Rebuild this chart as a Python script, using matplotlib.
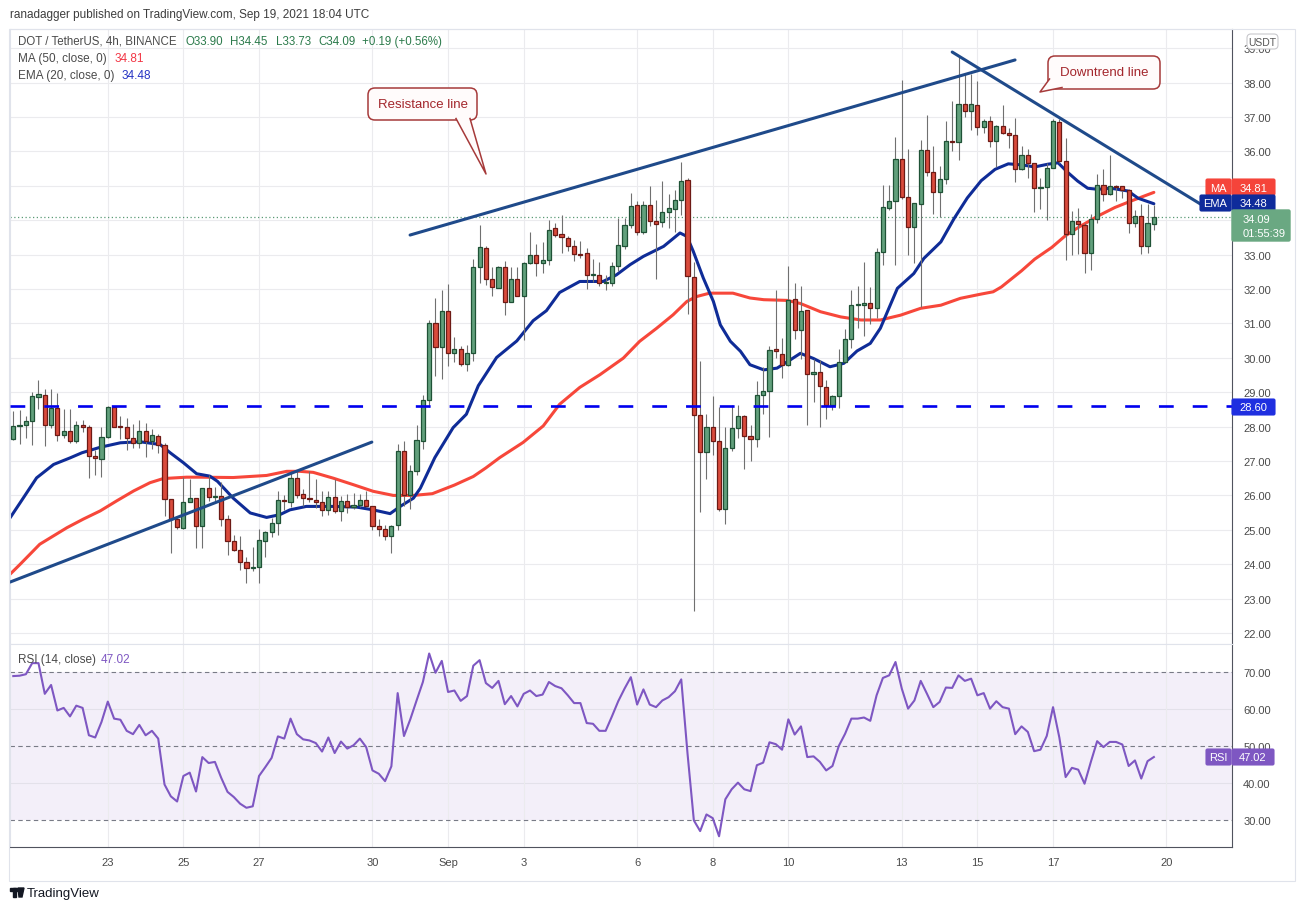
import matplotlib
matplotlib.use('Agg')
import matplotlib.pyplot as plt
from matplotlib.patches import FancyBboxPatch, Polygon, Rectangle
import numpy as np

# ---------------- DATA ----------------
opens = [27.63,28.02,28.04,28.16,28.87,28.91,28.06,28.55,27.75,27.87,27.58,28.06,28.00,27.14,27.06,27.70,28.56,28.00,28.00,27.67,
         27.52,27.87,27.58,27.72,27.48,25.89,25.31,25.06,25.81,25.93,25.11,26.22,25.95,25.97,25.30,24.67,24.42,24.06,23.90,23.91,
         24.67,24.93,25.19,25.88,25.80,26.52,26.04,25.92,25.88,25.80,25.57,25.94,25.54,25.83,25.65,25.71,25.88,25.68,25.10,25.02,
         24.81,25.13,27.30,26.02,26.70,27.59,28.78,31.00,30.32,31.37,30.14,30.27,29.82,30.14,32.63,33.18,32.29,32.04,32.65,31.63,
         32.29,31.80,32.76,32.99,32.76,32.85,33.76,33.60,33.48,33.26,33.02,33.04,32.41,32.41,32.17,32.17,32.66,33.24,33.87,34.43,
         33.67,34.43,33.97,33.94,34.23,34.33,34.58,35.16,32.34,28.35,27.25,27.98,27.59,25.61,27.38,27.96,28.30,27.74,27.63,28.93,
         29.05,30.27,30.12,29.80,31.70,30.81,31.39,29.52,29.58,29.16,28.63,28.90,29.89,30.54,31.53,31.53,31.60,31.46,33.08,34.37,
         34.56,35.79,34.68,33.81,34.46,36.05,35.41,34.82,35.19,36.31,36.28,37.39,37.17,37.34,36.72,36.88,36.30,36.74,36.55,36.48,
         35.50,35.90,35.65,34.95,34.97,35.53,36.86,35.72,33.59,33.98,33.86,33.06,34.03,35.03,34.75,35.00,35.00,34.87,33.93,34.12,
         33.25,33.90]
highs = [28.45,28.48,28.30,29.01,29.35,29.10,29.10,28.98,28.52,28.50,28.16,28.20,28.06,27.33,27.98,28.60,28.60,28.30,28.25,28.09,
         28.20,28.10,27.92,27.78,27.53,25.89,25.34,26.53,26.47,25.93,26.22,26.59,26.25,26.40,25.44,24.86,24.81,24.20,24.50,25.02,
         24.96,25.34,26.12,26.02,26.70,26.74,26.19,26.70,26.47,26.12,26.13,26.47,25.99,26.04,26.06,26.04,26.13,25.70,25.30,25.15,
         25.13,27.49,27.57,26.89,28.04,28.92,31.09,31.73,31.97,32.14,30.62,30.35,30.37,32.87,33.85,33.26,32.63,32.68,32.82,32.63,
         32.63,32.80,33.67,33.32,33.38,34.01,33.93,34.16,33.55,33.42,33.40,33.19,32.88,32.80,32.41,32.80,34.06,34.06,34.79,34.57,
         34.57,35.00,34.60,35.13,34.77,34.89,35.69,35.24,32.80,29.92,28.36,28.88,28.58,27.98,28.64,28.62,28.35,28.05,29.34,29.72,
         30.33,31.96,30.59,32.66,32.18,32.10,31.39,29.98,29.94,29.36,28.92,30.25,30.84,31.97,32.08,32.79,32.06,33.20,35.02,35.02,
         36.42,38.07,36.06,34.49,36.33,37.07,36.16,35.57,36.88,37.46,38.77,38.26,38.24,38.04,36.95,37.03,36.77,37.34,36.67,36.98,
         36.16,36.06,35.65,35.24,35.67,36.95,36.95,36.40,34.27,34.35,33.93,34.19,35.33,35.48,35.89,35.02,35.00,34.90,34.29,34.46,
         34.46,34.45]
lows = [27.60,27.50,27.67,27.48,28.50,27.45,27.96,27.58,27.67,27.53,27.53,27.85,26.50,26.58,26.53,27.68,28.00,27.63,27.32,27.38,
        27.38,27.11,27.34,27.24,25.40,24.34,25.02,25.03,25.80,24.48,24.48,25.84,25.83,25.10,24.28,24.38,23.82,23.44,23.80,23.44,
        24.20,24.80,24.84,25.58,25.65,25.92,25.68,25.80,25.63,25.40,25.44,25.49,25.25,25.49,25.60,25.66,25.65,24.98,24.81,24.69,
        24.33,24.98,25.68,25.60,26.60,27.35,28.57,29.46,29.38,29.75,29.88,29.77,29.62,29.91,32.17,32.11,31.80,32.02,31.25,31.63,
        31.80,30.52,32.74,32.38,32.46,32.70,33.50,33.06,33.11,32.82,32.90,32.00,32.20,32.10,31.96,32.08,32.53,33.17,33.77,33.56,
        33.60,33.82,32.30,33.79,33.77,33.67,34.16,31.28,22.65,25.51,26.48,27.18,25.54,25.17,27.28,27.68,26.78,26.99,27.42,28.37,
        27.69,29.99,29.41,29.75,30.55,29.98,28.05,28.73,28.00,28.22,28.48,28.54,29.84,30.28,30.86,30.64,30.98,31.16,32.71,34.30,
        32.70,34.63,32.99,32.76,31.49,35.29,34.18,34.08,35.04,36.00,35.74,37.00,36.62,36.48,36.55,36.13,35.55,36.50,36.09,35.11,
        35.45,35.24,34.25,34.32,34.00,35.51,35.67,32.85,32.99,33.03,32.48,32.56,33.93,34.56,34.73,34.56,34.66,33.64,33.79,33.03,
        33.06,33.73]
closes = [28.01,28.04,28.16,28.88,28.95,28.06,28.55,27.75,27.87,27.58,28.06,28.00,27.14,27.08,27.70,28.56,28.00,27.99,27.67,27.52,
          27.87,27.58,27.75,27.48,25.89,25.31,25.08,25.81,25.93,25.11,26.22,25.95,25.98,25.30,24.67,24.40,24.06,23.88,23.91,24.70,
          24.93,25.19,25.88,25.83,26.52,26.02,25.92,25.89,25.80,25.57,25.94,25.54,25.83,25.65,25.71,25.88,25.68,25.10,25.02,24.81,
          25.10,27.28,26.02,26.70,27.62,28.78,31.00,30.32,31.37,30.14,30.27,29.82,30.14,32.65,33.21,32.29,32.06,32.65,31.63,32.29,
          31.80,32.76,32.99,32.76,32.85,33.72,33.58,33.52,33.26,33.01,33.00,32.41,32.43,32.17,32.18,32.66,33.27,33.87,34.40,33.67,
          34.43,33.97,33.90,34.23,34.35,34.58,35.13,32.37,28.35,27.25,27.98,27.59,25.61,27.38,27.96,28.30,27.74,27.63,28.93,29.05,
          30.23,30.19,29.80,31.69,30.81,31.37,29.52,29.58,29.19,28.63,28.90,29.89,30.54,31.55,31.56,31.60,31.46,33.08,34.39,34.56,
          35.79,34.68,33.81,34.49,36.05,35.41,34.82,35.21,36.31,36.28,37.39,37.17,37.37,36.72,36.88,36.30,36.74,36.53,36.48,35.50,
          35.90,35.67,34.95,34.97,35.53,36.88,35.72,33.59,33.98,33.90,33.06,34.03,35.03,34.75,35.00,34.97,34.87,33.93,34.12,33.25,
          33.93,34.09]

rsi = [68.9,69.0,69.4,72.4,72.4,64.1,66.5,59.6,60.3,58.0,60.9,60.3,52.9,52.3,56.5,62.0,57.4,57.1,54.1,53.2,
       55.7,52.9,54.1,52.0,39.6,36.4,35.0,41.9,42.8,37.7,47.0,45.4,45.7,41.4,37.6,36.2,34.4,33.3,33.7,41.9,
       44.3,46.8,52.6,52.0,57.4,53.2,51.8,51.5,50.8,48.5,52.3,48.1,51.2,49.3,50.2,52.0,49.7,43.4,42.5,40.5,
       44.5,64.3,52.7,57.2,62.3,67.3,75.0,69.8,73.0,64.6,65.0,62.2,63.5,71.7,73.2,67.0,65.7,67.6,61.3,63.5,
       60.7,64.1,65.0,63.5,63.9,67.3,66.2,65.6,63.7,61.6,61.6,56.2,56.0,54.1,54.1,58.0,62.1,65.5,68.6,61.2,
       65.3,61.2,60.5,62.3,63.2,64.8,68.0,47.9,29.9,27.0,31.5,30.5,25.6,35.6,38.3,40.1,38.3,37.8,44.8,45.5,
       51.0,50.5,49.0,57.2,53.1,55.3,47.0,47.2,45.7,43.4,44.6,50.0,53.3,57.4,57.4,57.7,56.8,63.7,68.4,69.1,
       72.7,65.5,60.1,62.3,67.6,64.1,60.5,61.9,65.8,65.7,69.1,67.6,68.2,63.7,64.3,60.1,62.1,60.5,60.1,53.2,
       55.3,53.8,48.6,49.0,52.7,60.5,52.3,41.6,44.1,43.6,39.8,45.7,51.3,49.7,51.1,51.1,50.4,44.6,46.1,41.2,
       45.9,47.02]

# sampled EMA(20) and MA(50) values (candle index, value)
ema_t = [-0.5,1.1,3.7,6.4,9.0,10.9,13.8,17,20.1,23.3,24.9,27,29.1,31.2,32.4,34.9,37.6,40.2,42.3,43.9,46.5,50.8,54.5,57.1,
         59.8,61.4,63.5,64.6,66.9,69.8,71.9,73.8,76.7,79.9,82.5,84.6,86.7,89.9,93.6,95.7,97.9,100,103.2,105.8,106.9,107.9,
         109.5,111.1,112.2,113.8,115.4,116.9,119.1,121.2,123.3,124.9,127,129.6,131.8,133.9,136,137.6,140.3,142.9,144.5,
         147.2,149.3,151.4,153.6,155.8,157.9,160,162.1,164.2,165.8,167.4,168.9,170.5,172.1,174.2,176.9,178.5,181]
ema_v = [25.35,25.79,26.51,26.90,27.09,27.24,27.40,27.53,27.56,27.48,27.24,26.95,26.63,26.56,26.41,25.92,25.49,25.36,25.44,
         25.58,25.68,25.68,25.66,25.58,25.47,25.68,25.92,26.21,27.10,27.97,28.36,29.19,30.01,30.49,31.08,31.37,31.90,32.22,
         32.22,32.41,32.71,32.95,33.24,33.63,33.53,33.10,32.32,31.64,30.96,30.48,30.19,29.80,29.65,29.70,29.94,30.13,29.98,
         29.74,29.84,30.20,30.42,30.86,32.02,32.45,32.89,33.37,34.05,34.65,35.15,35.48,35.64,35.61,35.55,35.63,35.67,35.38,
         35.14,34.93,34.90,34.93,34.85,34.64,34.48]
ma_t = [-0.5,1.1,4.2,8.5,11.1,13.8,16.4,19.1,21.7,23.8,27.5,29.6,34.9,40.2,43.4,45.5,47.6,50.8,54.0,57.1,60.3,63.5,66.5,
        70,73,75,77.2,80.9,84.1,86.7,89.9,93.1,96.8,99.4,102.1,104.7,106.9,108.4,110.5,114.2,116.9,119.1,122.8,124.9,128.1,
        131.3,134.5,137.6,140.8,144.0,147.2,150.3,153.5,155.5,156.8,160,162.1,164.8,166.9,169,172.1,174.8,177.4,181]
ma_v = [23.71,24.00,24.58,25.06,25.31,25.55,25.84,26.13,26.37,26.49,26.53,26.53,26.52,26.58,26.70,26.70,26.67,26.50,26.31,
        26.12,26.00,26.00,26.05,26.30,26.55,26.80,27.10,27.54,28.02,28.65,29.14,29.51,29.99,30.48,30.86,31.25,31.64,31.78,
        31.88,31.88,31.74,31.69,31.67,31.58,31.34,31.19,31.10,31.10,31.24,31.44,31.53,31.73,31.85,31.92,32.06,32.53,32.87,
        33.21,33.54,33.79,34.12,34.37,34.56,34.81]

day_ticks = [15, 27, 39, 57, 69, 81, 99, 111, 123, 141, 153, 165, 183]
day_labels = ['23', '25', '27', '30', 'Sep', '3', '6', '8', '10', '13', '15', '17', '20']
price_ticks = list(range(22, 40))
hidden_price_labels = [34, 35]   # covered by the value boxes in the reference
rsi_ticks = [30, 40, 50, 60, 70]

support_level = 28.60
resist_line = ([62.97, 158.97], [33.57, 38.66])
down_line = ([149.0, 188.4], [38.89, 34.47])
rise_line = ([-0.52, 56.9], [23.48, 27.55])

# ---------------- FIGURE ----------------
W, H = 1304, 912
plt.rcParams['font.family'] = ['Liberation Sans', 'DejaVu Sans']
fig = plt.figure(figsize=(W / 100, H / 100), dpi=100)
fig.patch.set_facecolor('white')

def fx(px):
    return px / W

def fy(py):
    return 1 - py / H

L, R = 10, 1232
ax = fig.add_axes([fx(L), fy(645), fx(R) - fx(L), fy(30) - fy(645)])
rx = fig.add_axes([fx(L), fy(848), fx(R) - fx(L), fy(645) - fy(848)], sharex=ax)

GRID = '#ebebee'
TXT = '#4a4a4a'
xlim = (-0.52, 193.4)

o = np.array(opens); h = np.array(highs); lo = np.array(lows); c = np.array(closes)
idx = np.arange(len(o))
up = c >= o

# price panel
ax.set_xlim(*xlim)
ax.set_ylim(21.68, 39.56)
for t in price_ticks:
    ax.axhline(t, color=GRID, lw=0.8, zorder=0)
for t in day_ticks:
    ax.axvline(t, color=GRID, lw=0.8, zorder=0)

ax.plot(ma_t, ma_v, color='#f7473a', lw=2.2, zorder=2, solid_capstyle='round')
ax.plot(ema_t, ema_v, color='#0f2c97', lw=2.2, zorder=2, solid_capstyle='round')

ax.vlines(idx, lo, h, color='#707070', lw=0.8, zorder=3)
body_b = np.minimum(o, c)
body_h = np.maximum(np.abs(c - o), 0.03)
ax.bar(idx[up], body_h[up], bottom=body_b[up], width=0.66, color='#62a07c',
       edgecolor='#1f5236', linewidth=0.9, zorder=4)
ax.bar(idx[~up], body_h[~up], bottom=body_b[~up], width=0.66, color='#d94b3c',
       edgecolor='#6d1a15', linewidth=0.9, zorder=4)

ax.axhline(support_level, color='#0000ee', lw=1.9, dashes=(5.6, 7.2), zorder=5)
ax.axhline(closes[-1], color='#5a9a76', lw=0.9, ls=(0, (1, 2)), zorder=1)

for xs, ys in (resist_line, down_line, rise_line):
    ax.plot(xs, ys, color='#1f4a8a', lw=2.2, zorder=6, solid_capstyle='round')

ax.yaxis.tick_right()
ax.set_yticks(price_ticks)
ax.set_yticklabels(['' if t in hidden_price_labels else f'{t:.2f}' for t in price_ticks])
ax.tick_params(axis='y', length=0, pad=8, labelsize=8, labelcolor=TXT)
ax.tick_params(axis='x', length=0, labelbottom=False)
ax.set_xticks(day_ticks)
for s in ('left', 'top', 'bottom'):
    ax.spines[s].set_color('#e0e3eb')
ax.spines['right'].set_color('#50535e')

# RSI panel
rx.set_ylim(22.7, 77.57)
rx.axhspan(30, 70, color='#7e57c2', alpha=0.09, lw=0, zorder=0)
for t in [40, 60]:
    rx.axhline(t, color='#e3e1ea', lw=0.8, zorder=0)
for t in day_ticks:
    rx.axvline(t, color=GRID, lw=0.8, zorder=0)
for t in [30, 50, 70]:
    rx.axhline(t, color='#787b86', lw=0.8, ls=(0, (4, 3)), zorder=1)
rx.plot(idx, rsi, color='#7e57c2', lw=1.5, zorder=3)
rx.yaxis.tick_right()
rx.set_yticks(rsi_ticks)
rx.set_yticklabels([f'{t:.2f}' for t in rsi_ticks])
rx.tick_params(axis='y', length=0, pad=8, labelsize=8, labelcolor=TXT)
rx.set_xticks(day_ticks)
rx.set_xticklabels(day_labels)
rx.tick_params(axis='x', length=0, pad=7, labelsize=8, labelcolor=TXT)
for s in ('left', 'top'):
    rx.spines[s].set_color('#e0e3eb')
rx.spines['right'].set_color('#50535e')
rx.spines['bottom'].set_color('#50535e')

# ---------------- OVERLAY (pixel coordinates) ----------------
ov = fig.add_axes([0, 0, 1, 1], zorder=10)
ov.set_xlim(0, W); ov.set_ylim(H, 0); ov.axis('off'); ov.patch.set_alpha(0)

ov.add_patch(Rectangle((9, 30), 1286, 852, fill=False, ec='#e0e3eb', lw=0.8))

ov.text(10, 15, 'ranadagger published on TradingView.com, Sep 19, 2021 18:04 UTC',
        fontsize=8.5, color='#3d3d3d', va='center', ha='left')
ov.text(18, 42, 'DOT / TetherUS, 4h, BINANCE', fontsize=8.3, color=TXT, va='center')
GREEN_T = '#2b7a4b'
for xp, s in [(185, 'O33.90'), (230, 'H34.45'), (276, 'L33.73'), (318, 'C34.09'), (362, '+0.19 (+0.56%)')]:
    ov.text(xp, 42, s, fontsize=8.3, color=GREEN_T, va='center')
ov.text(18, 59, 'MA (50, close, 0)', fontsize=8.5, color=TXT, va='center')
ov.text(115, 59, '34.81', fontsize=8.5, color='#f23645', va='center')
ov.text(18, 76, 'EMA (20, close, 0)', fontsize=8.5, color=TXT, va='center')
ov.text(122, 76, '34.48', fontsize=8.5, color='#2634c4', va='center')
ov.text(18, 660, 'RSI (14, close)', fontsize=8.5, color=TXT, va='center')
ov.text(101, 660, '47.02', fontsize=8.5, color='#7e57c2', va='center')


def box(x0, y0, x1, y1, fc, txt, tc='white', fs=8, ec=None, rnd=1.5):
    ov.add_patch(FancyBboxPatch((x0, y0), x1 - x0, y1 - y0,
                                boxstyle=f'round,pad=0,rounding_size={rnd}',
                                fc=fc, ec=ec if ec else fc, lw=0.8))
    ov.text((x0 + x1) / 2, (y0 + y1) / 2 + 0.5, txt, color=tc, fontsize=fs,
            ha='center', va='center')


box(1247, 35, 1278, 50, 'white', 'USDT', tc='#555555', fs=7.5, ec='#c8c8cc', rnd=4)
box(1206, 180, 1231, 196, '#f5443a', 'MA')
box(1232, 180, 1275, 196, '#f5443a', '34.81')
box(1200, 196, 1231, 212, '#0e2b9b', 'EMA')
box(1232, 196, 1275, 212, '#0e2b9b', '34.48')
ov.add_patch(FancyBboxPatch((1232, 211), 58, 31, boxstyle='round,pad=0,rounding_size=1.5',
                            fc='#6aa882', ec='#6aa882'))
ov.text(1243, 220, '34.09', color='white', fontsize=8, va='center')
ov.text(1243, 234, '01:55:39', color='white', fontsize=8, va='center')
box(1232, 400, 1275, 416, '#1f2fe0', '28.60')
box(1206, 750, 1231, 766, '#7e57c2', 'RSI')
box(1232, 750, 1274, 766, '#7e57c2', '47.02')

EC = '#a63a3a'
FC = '#fffbfb'


def callout(x0, y0, x1, y1, p1, tip, p2, text):
    ov.add_patch(FancyBboxPatch((x0, y0), x1 - x0, y1 - y0,
                                boxstyle='round,pad=0,rounding_size=7',
                                fc=FC, ec=EC, lw=1.1, zorder=2))
    ov.add_patch(Polygon([p1, tip, p2], closed=True, fc=FC, ec='none', zorder=3))
    ov.plot([p1[0], tip[0], p2[0]], [p1[1], tip[1], p2[1]], color=EC, lw=1.1, zorder=4)
    ov.text((x0 + x1) / 2, (y0 + y1) / 2, text, color='#a3262c', fontsize=9.5,
            ha='center', va='center', zorder=5)


callout(368, 89, 477, 121, (456, 119.5), (486, 175), (470, 119.5), 'Resistance line')
callout(1048, 57, 1160, 90, (1049.5, 80), (1040, 93), (1062, 88.5), 'Downtrend line')

# TradingView logo
ov.add_patch(Rectangle((10, 889), 7, 3, color='#131722'))
ov.add_patch(Rectangle((12.5, 889), 3, 9, color='#131722'))
ov.add_patch(Polygon([(18, 889), (21, 889), (24, 889), (22, 898), (19, 898)], closed=True, color='#131722'))
ov.text(27, 894, 'TradingView', fontsize=9.5, color='#131722', va='center')

fig.savefig('out.png', dpi=100)
